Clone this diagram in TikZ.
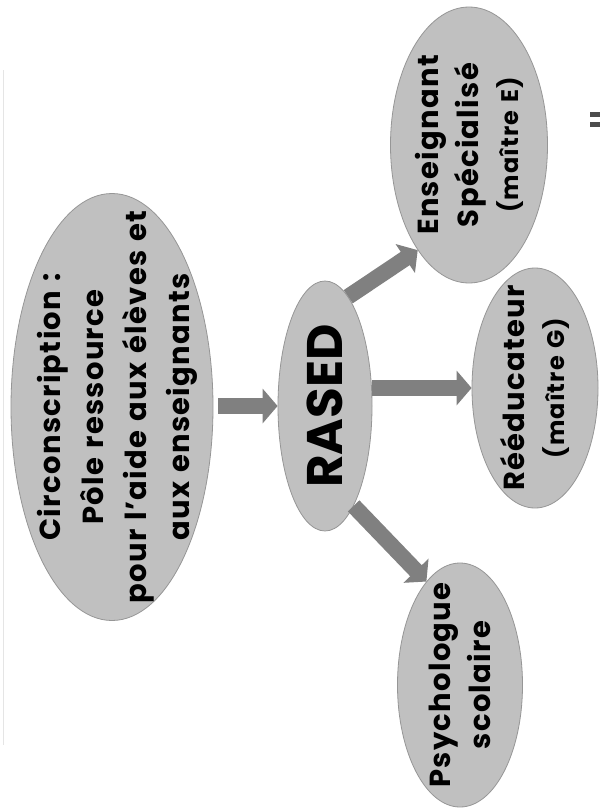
\documentclass[tikz,border=0pt]{standalone}
\usepackage{fontspec}
\setmainfont{Poppins}[LetterSpace=4.5,WordSpace=1.2]
\newfontfamily\rasedfont{Poppins}
\usetikzlibrary{shapes.geometric,arrows.meta}
\definecolor{ellfill}{RGB}{192,192,192}
\definecolor{elldraw}{RGB}{150,150,150}
\definecolor{arrowgray}{RGB}{128,128,128}
\tikzset{
  bubble/.style={ellipse, fill=ellfill, draw=elldraw, line width=0.8pt, inner sep=0pt},
  label/.style={rotate=90, align=center, font=\bfseries\fontsize{29}{40}\selectfont, text=black, inner sep=0pt},
  bigarrow/.style={draw=arrowgray, line width=16pt, -{Triangle[width=34pt,length=15pt]}, arrowgray}
}
\newcommand{\smalltxt}[1]{{\fontsize{24}{40}\selectfont #1}}
\begin{document}
\begin{tikzpicture}[x=1pt,y=-1pt]
\path[fill=white,use as bounding box] (0,0) rectangle (600,809);
\draw[gray!20, line width=1pt] (3,70) -- (3,745);
% nodes
\node[bubble, minimum width=202pt, minimum height=427pt] (circ) at (112,407) {};
\node[bubble, minimum width=94pt, minimum height=250pt] (rased) at (325,406) {};
\node[bubble, minimum width=157pt, minimum height=276pt] (ens) at (469,145) {};
\node[bubble, minimum width=126pt, minimum height=240pt] (reed) at (535,388) {};
\node[bubble, minimum width=125pt, minimum height=244pt] (psy) at (460,685) {};
% texts
\node[label, font=\bfseries\fontsize{29}{43}\selectfont] (circtxt) at ([xshift=5pt]circ.center) {Circonscription :\\Pôle ressource\\pour l'aide aux élèves et\\aux enseignants};
\node[label, font=\rasedfont\bfseries\fontsize{50}{60}\selectfont] (rasedtxt) at (rased) {RASED};
\node[label] (enstxt) at (ens) {Enseignant\\Spécialisé\\\smalltxt{(maître E)}};
\node[label] (reedtxt) at (reed) {Rééducateur\\\smalltxt{(maître G)}};
\node[label] (psytxt) at (psy) {Psychologue\\scolaire};
% arrows
\draw[bigarrow, shorten <=5pt] (circ.east |- rased.west) -- (rased.west);
\draw[bigarrow] (rased.east |- reed.west) -- (reed.west);
\draw[bigarrow] (rased.78) -- (ens.244);
\draw[bigarrow] (rased.286) -- (psy.108);
% cut-off mark at right edge
\fill[black!70] (590,112) rectangle (600,117);
\fill[black!70] (590,122) rectangle (600,127);
\end{tikzpicture}
\end{document}
